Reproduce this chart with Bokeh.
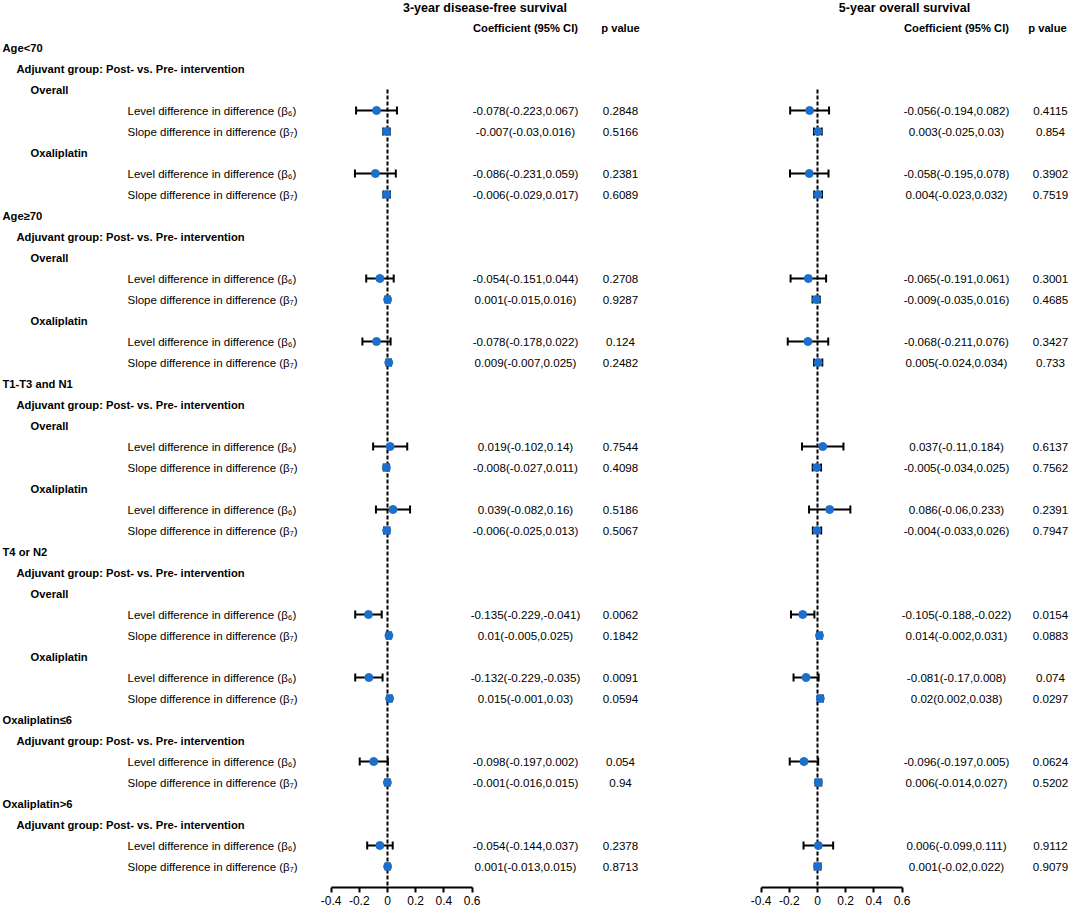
from bokeh.plotting import figure
from bokeh.layouts import row
from bokeh.models import ColumnDataSource, Range1d, FixedTicker, Whisker, TeeHead, CustomJSTickFormatter
from bokeh.core.properties import value
from bokeh.embed import file_html
from bokeh.resources import INLINE

# ---------------- data ----------------
groups = ["Age<70", "Age≥70", "T1-T3 and N1", "T4 or N2", "Oxaliplatin≤6", "Oxaliplatin>6"]
has_subgroups = [True, True, True, True, False, False]
comparison = "Adjuvant group: Post- vs. Pre- intervention"
subgroups = ["Overall", "Oxaliplatin"]
terms = ["Level difference in difference (β₆)", "Slope difference in difference (β₇)"]

panel_titles = ["3-year disease-free survival", "5-year overall survival"]
col_headers = ["Coefficient (95% CI)", "p value"]
tick_values = [-0.4, -0.2, 0, 0.2, 0.4, 0.6]

dfs_coef = [-0.078, -0.007, -0.086, -0.006, -0.054, 0.001, -0.078, 0.009, 0.019, -0.008,
            0.039, -0.006, -0.135, 0.01, -0.132, 0.015, -0.098, -0.001, -0.054, 0.001]
dfs_lo = [-0.223, -0.03, -0.231, -0.029, -0.151, -0.015, -0.178, -0.007, -0.102, -0.027,
          -0.082, -0.025, -0.229, -0.005, -0.229, -0.001, -0.197, -0.016, -0.144, -0.013]
dfs_hi = [0.067, 0.016, 0.059, 0.017, 0.044, 0.016, 0.022, 0.025, 0.14, 0.011,
          0.16, 0.013, -0.041, 0.025, -0.035, 0.03, 0.002, 0.015, 0.037, 0.015]
dfs_p = ["0.2848", "0.5166", "0.2381", "0.6089", "0.2708", "0.9287", "0.124", "0.2482", "0.7544", "0.4098",
         "0.5186", "0.5067", "0.0062", "0.1842", "0.0091", "0.0594", "0.054", "0.94", "0.2378", "0.8713"]

os_coef = [-0.056, 0.003, -0.058, 0.004, -0.065, -0.009, -0.068, 0.005, 0.037, -0.005,
           0.086, -0.004, -0.105, 0.014, -0.081, 0.02, -0.096, 0.006, 0.006, 0.001]
os_lo = [-0.194, -0.025, -0.195, -0.023, -0.191, -0.035, -0.211, -0.024, -0.11, -0.034,
         -0.06, -0.033, -0.188, -0.002, -0.17, 0.002, -0.197, -0.014, -0.099, -0.02]
os_hi = [0.082, 0.03, 0.078, 0.032, 0.061, 0.016, 0.076, 0.034, 0.184, 0.025,
         0.233, 0.026, -0.022, 0.031, 0.008, 0.038, 0.005, 0.027, 0.111, 0.022]
os_p = ["0.4115", "0.854", "0.3902", "0.7519", "0.3001", "0.4685", "0.3427", "0.733", "0.6137", "0.7562",
        "0.2391", "0.7947", "0.0154", "0.0883", "0.074", "0.0297", "0.0624", "0.5202", "0.9112", "0.9079"]

# ---------------- row structure ----------------
rows = []  # (text, level)
for g, hs in zip(groups, has_subgroups):
    rows.append((g, 0))
    rows.append((comparison, 1))
    for s in (subgroups if hs else [None]):
        if s:
            rows.append((s, 2))
        for t in terms:
            rows.append((t, 3))
data_y = [i for i, (_, lv) in enumerate(rows) if lv == 3]

# ---------------- layout constants ----------------
FONT = "Liberation Sans"
PPU = 141.0            # pixels per unit on x
FH = 887               # frame height
PAGE_TOP = 0
ROW0 = 47.0            # page y of row 0
STEP = 21.0            # px per row
y_top = (PAGE_TOP - ROW0) / STEP
y_bot = (PAGE_TOP + FH - ROW0) / STEP
TITLE_Y = (7.5 - ROW0) / STEP
HEAD_Y = (27.0 - ROW0) / STEP
BLUE = "#1c6fcc"


def make_panel(left_page, width, zero_page, coef, lo, hi, pvals, title, title_px, ci_px, p_px, ph_px, with_labels):
    fx = lambda px: (px - zero_page) / PPU
    p = figure(frame_width=width, frame_height=FH,
               x_range=Range1d(fx(left_page), fx(left_page + width)),
               y_range=Range1d(y_bot, y_top),
               output_backend="svg", toolbar_location=None, y_axis_location=None,
               min_border=0, min_border_left=0, min_border_right=0, min_border_top=0)
    p.grid.visible = False
    p.outline_line_color = None
    p.background_fill_color = "white"
    p.border_fill_color = "white"

    ax = p.xaxis[0]
    ax.bounds = (-0.4, 0.6)
    ax.ticker = FixedTicker(ticks=tick_values)
    ax.formatter = CustomJSTickFormatter(code="return Math.abs(tick) < 1e-9 ? '0' : tick.toFixed(1);")
    ax.axis_line_width = 2
    ax.axis_line_color = "black"
    ax.major_tick_line_width = 2
    ax.major_tick_line_color = "black"
    ax.major_tick_out = 5
    ax.major_tick_in = 0
    ax.minor_tick_line_color = None
    ax.major_label_standoff = 3
    ax.major_label_text_font = FONT
    ax.major_label_text_font_size = "12px"
    ax.major_label_text_color = "black"

    # left labels
    if with_labels:
        indent_px = [2, 16, 30, 127]
        for lv in range(4):
            idx = [i for i, (_, l) in enumerate(rows) if l == lv]
            src = ColumnDataSource(dict(x=[fx(indent_px[lv])] * len(idx), y=idx,
                                        t=[rows[i][0] for i in idx]))
            p.text(x="x", y="y", text="t", source=src, text_font=value(FONT),
                   text_font_size=value("11.5px" if lv == 3 else "11.2px"),
                   text_font_style="normal" if lv == 3 else "bold",
                   text_baseline="middle", text_align="left", text_color="black")

    # headers
    p.text(x=[fx(title_px)], y=[TITLE_Y], text=[title], text_font=value(FONT),
           text_font_size=value("12.5px"), text_font_style="bold",
           text_baseline="middle", text_align="center", text_color="black")
    p.text(x=[fx(ci_px), fx(ph_px)], y=[HEAD_Y, HEAD_Y], text=col_headers, text_font=value(FONT),
           text_font_size=value("11.2px"), text_font_style="bold",
           text_baseline="middle", text_align="center", text_color="black")

    # zero line
    p.segment(x0=[0], y0=[2.0], x1=[0], y1=[y_bot], line_color="black", line_width=2, line_dash="4 2")

    src = ColumnDataSource(dict(y=data_y, c=coef, lo=lo, hi=hi,
                                ci=[f"{c}({a},{b})" for c, a, b in zip(coef, lo, hi)],
                                pv=pvals,
                                xci=[fx(ci_px)] * len(coef), xp=[fx(p_px)] * len(coef)))
    w = Whisker(source=src, base="y", lower="lo", upper="hi", dimension="width",
                line_color="black", line_width=2,
                upper_head=TeeHead(size=8, line_width=2, line_color="black"),
                lower_head=TeeHead(size=8, line_width=2, line_color="black"))
    p.add_layout(w)
    p.scatter(x="c", y="y", source=src, size=8, fill_color=BLUE, line_color=BLUE, level="overlay")

    p.text(x="xci", y="y", text="ci", source=src, text_font=value(FONT), text_font_size=value("11.6px"),
           text_baseline="middle", text_align="center", text_color="black")
    p.text(x="xp", y="y", text="pv", source=src, text_font=value(FONT), text_font_size=value("11.6px"),
           text_baseline="middle", text_align="center", text_color="black")
    return p


p1 = make_panel(0, 680, 387, dfs_coef, dfs_lo, dfs_hi, dfs_p, panel_titles[0], 484.5, 525, 620, 620, True)
p2 = make_panel(680, 392, 817, os_coef, os_lo, os_hi, os_p, panel_titles[1], 904, 956, 1050, 1047, False)

layout = row(p1, p2, spacing=0)
open("out.html", "w").write(file_html(layout, INLINE))
